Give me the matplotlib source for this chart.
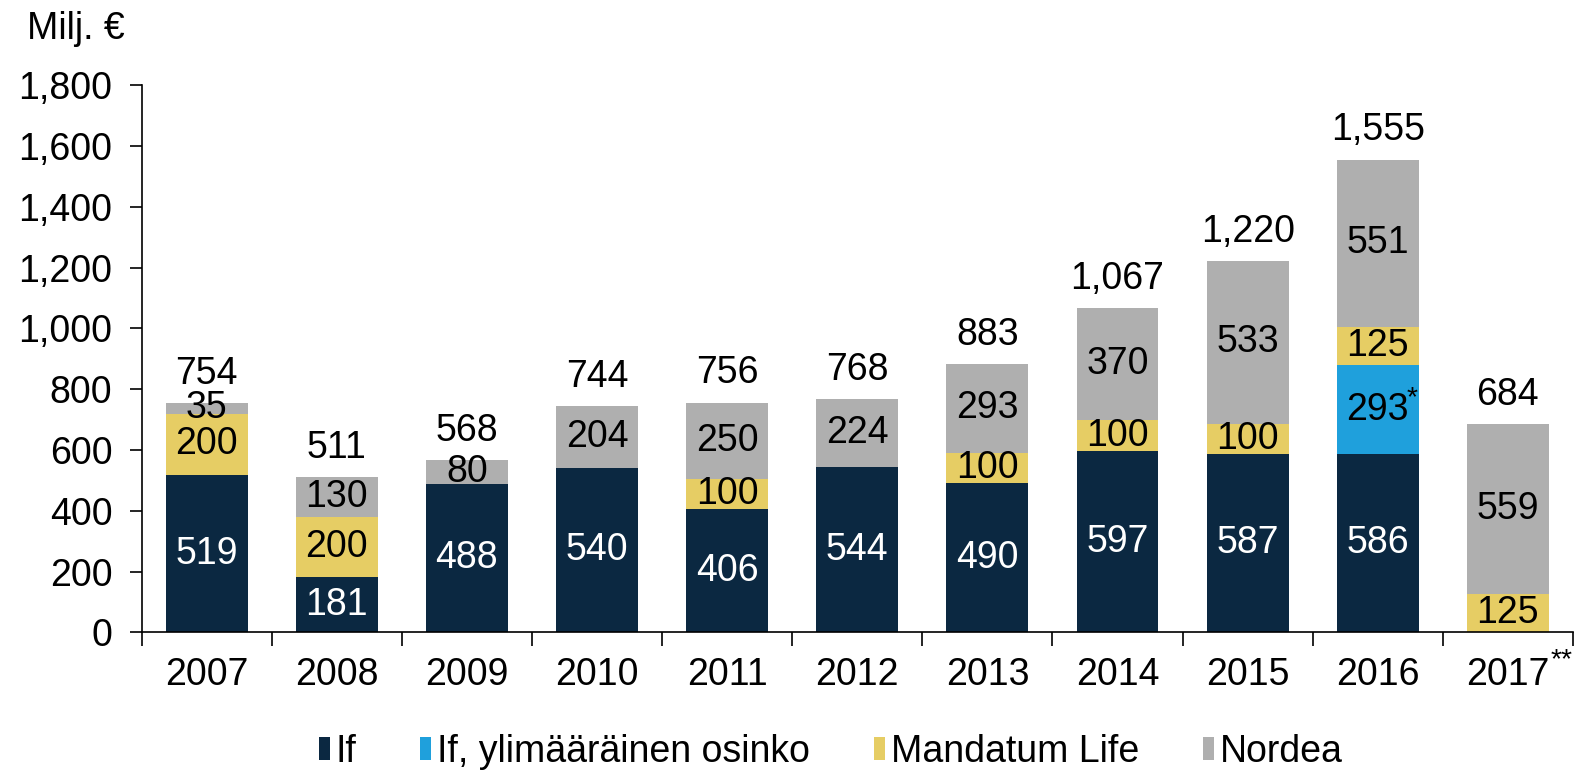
import matplotlib
matplotlib.use("Agg")
import matplotlib.pyplot as plt
import numpy as np

plt.rcParams['font.family'] = ['Liberation Sans', 'DejaVu Sans']

years = ["2007", "2008", "2009", "2010", "2011", "2012", "2013", "2014", "2015", "2016", "2017"]
if_vals = [519, 181, 488, 540, 406, 544, 490, 597, 587, 586, 0]
if_extra = [0, 0, 0, 0, 0, 0, 0, 0, 0, 293, 0]
mandatum = [200, 200, 0, 0, 100, 0, 100, 100, 100, 125, 125]
nordea = [35, 130, 80, 204, 250, 224, 293, 370, 533, 551, 559]
totals = [754, 511, 568, 744, 756, 768, 883, 1067, 1220, 1555, 684]

series = [
    ("If", if_vals, "#0b2841", "white"),
    ("If, ylimääräinen osinko", if_extra, "#1fa0dc", "black"),
    ("Mandatum Life", mandatum, "#e6cd64", "black"),
    ("Nordea", nordea, "#afafaf", "black"),
]

fs = 27
fig = plt.figure(figsize=(15.85, 7.75), dpi=100)
ax = fig.add_axes([0.0893, 0.1839, 0.9031, 0.7064])

x = np.arange(len(years))
bottom = np.zeros(len(years))
for name, vals, color, tcolor in series:
    vals = np.array(vals, dtype=float)
    ax.bar(x, vals, 0.63, bottom=bottom, color=color, label=name, zorder=2)
    for xi, v, b in zip(x, vals, bottom):
        if v > 0:
            lab = f"{int(v)}"
            ax.text(xi, b + v / 2, lab, ha="center", va="center", fontsize=fs, color=tcolor, zorder=3)
            if name == "If, ylimääräinen osinko":
                ax.annotate("*", xy=(xi, b + v / 2), xytext=(25, 8), textcoords="offset points",
                            ha="center", va="center", fontsize=fs * 0.75, color=tcolor)
    bottom += vals

for xi, t in zip(x, totals):
    ax.annotate(f"{t:,}", xy=(xi, t), xytext=(0, 8), textcoords="offset points",
                ha="center", va="bottom", fontsize=fs)

ax.set_xlim(-0.5, len(years) - 0.5)
ax.set_ylim(0, 1800)
ax.set_yticks(np.arange(0, 1801, 200))
ax.set_yticklabels([f"{v:,}" for v in range(0, 1801, 200)], fontsize=fs)
ax.tick_params(axis="y", direction="out", length=9, width=1.2, pad=12)

ax.set_xticks(x)
ax.set_xticklabels(years, fontsize=fs)
ax.tick_params(axis="x", length=0, pad=18)
ax.set_xticks(np.arange(-0.5, len(years), 1), minor=True)
ax.tick_params(axis="x", which="minor", direction="out", length=10, width=1.2)
ax.text(len(years) - 1 + 0.33, -50, "**", ha="left", va="top", fontsize=fs * 0.75)

for s in ["top", "right"]:
    ax.spines[s].set_visible(False)
ax.spines["left"].set_linewidth(1.2)
ax.spines["bottom"].set_linewidth(1.2)

fig.text(0.017, 0.963, "Milj. €", fontsize=fs, ha="left", va="center")

fig.legend(loc="center", bbox_to_anchor=(0.524, 0.03), ncol=4, frameon=False, fontsize=fs,
           handlelength=0.3, handleheight=0.6, handletextpad=0.15, columnspacing=1.7,
           borderpad=0.1)

fig.savefig("out.png", dpi=100)
